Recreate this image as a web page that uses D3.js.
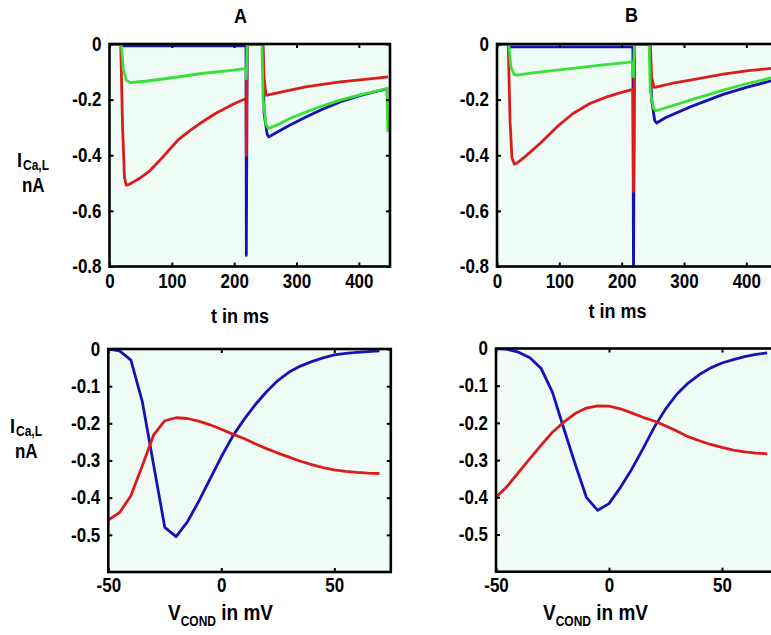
<!DOCTYPE html>
<html>
<head>
<meta charset="utf-8">
<script src="https://cdn.jsdelivr.net/npm/d3@7"></script>
<style>
  body { margin: 0; background: #fff; }
  text { font-family: "Liberation Sans", Arial, sans-serif; font-weight: bold; fill: #000; }
</style>
</head>
<body>
<div id="chartArea"></div>
<script>
// ---- data ----
var tTicks = [0, 100, 200, 300, 400];
var iTicksTop = [0, -0.2, -0.4, -0.6, -0.8];
var vTicks = [-50, 0, 50];
var iTicksBottom = [0, -0.1, -0.2, -0.3, -0.4, -0.5];

// top row: [t in ms, I in nA]
var topA_blue = [[0,0],[19,0],[20,-0.007],[219,-0.007],[219.5,-0.76],[221,0],[246,0],[248,-0.25],[253,-0.325],[256,-0.334],[265,-0.322],[289,-0.292],[316,-0.262],[340,-0.236],[370,-0.208],[400,-0.187],[425,-0.172],[447,-0.16]];
var topA_red = [[0,0],[18,0],[21,-0.3],[24,-0.48],[27,-0.508],[31,-0.505],[40,-0.494],[49,-0.482],[65,-0.455],[80,-0.42],[92,-0.39],[110,-0.345],[130,-0.31],[145,-0.286],[170,-0.25],[199,-0.216],[219,-0.196],[219.5,-0.4],[220.5,0],[246,0],[248,-0.12],[251,-0.184],[253,-0.184],[280,-0.17],[317,-0.153],[370,-0.136],[410,-0.127],[447,-0.118]];
var topA_green = [[0,0],[19,0],[22,-0.09],[27,-0.13],[33,-0.139],[60,-0.133],[92,-0.124],[145,-0.107],[199,-0.094],[219,-0.088],[219.5,-0.125],[221,0],[244.5,0],[246.5,-0.2],[251,-0.29],[255,-0.304],[270,-0.29],[289,-0.268],[316,-0.244],[340,-0.224],[370,-0.202],[400,-0.184],[425,-0.171],[445,-0.16],[446.5,-0.316]];

var topB_blue = [[0,0],[19,0],[20,-0.01],[218,-0.01],[219,-0.85],[220.5,0],[245,0],[248,-0.2],[253,-0.275],[256,-0.284],[270,-0.265],[310,-0.226],[363,-0.181],[400,-0.156],[447,-0.128]];
var topB_red = [[0,0],[18,0],[21,-0.28],[24,-0.41],[28,-0.432],[32,-0.428],[45,-0.405],[69,-0.358],[96,-0.298],[122,-0.25],[149,-0.214],[176,-0.19],[200,-0.174],[218,-0.163],[219,-0.53],[220.5,0],[246,0],[248,-0.12],[252,-0.156],[255,-0.155],[280,-0.142],[310,-0.13],[363,-0.108],[400,-0.097],[447,-0.086]];
var topB_green = [[0,0],[19,0],[22,-0.08],[27,-0.108],[32,-0.112],[60,-0.103],[122,-0.088],[170,-0.075],[218,-0.064],[219,-0.118],[220.5,0],[244,0],[246,-0.17],[251,-0.232],[255,-0.24],[280,-0.223],[310,-0.202],[363,-0.166],[400,-0.143],[447,-0.118]];

// bottom row: V_COND steps (mV) and peak currents (nA)
var vCond = [-50,-45,-40,-35,-30,-25,-20,-15,-10,-5,0,5,10,15,20,25,30,35,40,45,50,55,60,65,70];
var botA_blue = [0,-0.005,-0.03,-0.14,-0.31,-0.48,-0.505,-0.465,-0.41,-0.35,-0.29,-0.235,-0.19,-0.15,-0.115,-0.085,-0.062,-0.046,-0.034,-0.024,-0.016,-0.012,-0.009,-0.007,-0.005];
var botA_red = [-0.46,-0.44,-0.395,-0.315,-0.232,-0.193,-0.185,-0.187,-0.194,-0.204,-0.216,-0.229,-0.241,-0.255,-0.268,-0.28,-0.291,-0.302,-0.311,-0.319,-0.325,-0.329,-0.332,-0.334,-0.335];
var botB_blue = [0,-0.002,-0.01,-0.025,-0.054,-0.118,-0.215,-0.31,-0.4,-0.435,-0.417,-0.374,-0.325,-0.27,-0.212,-0.163,-0.123,-0.093,-0.07,-0.052,-0.039,-0.03,-0.022,-0.016,-0.012];
var botB_red = [-0.4,-0.37,-0.333,-0.296,-0.26,-0.225,-0.198,-0.175,-0.16,-0.154,-0.155,-0.162,-0.173,-0.185,-0.195,-0.208,-0.222,-0.237,-0.248,-0.258,-0.266,-0.273,-0.278,-0.281,-0.283];

var colors = { blue: "#1414b4", red: "#dc1c1c", green: "#38e038" };
var stretch = 1.15; // lettering in the figure is a bit taller than wide

var svg = d3.select("#chartArea").append("svg")
    .attr("width", 771)
    .attr("height", 635);

function zip(xs, ys) {
    return xs.map(function(v, i) { return [v, ys[i]]; });
}
function fmt(d) { return d === 0 ? "0" : String(d); }

var clipId = 0;
function panel(p) {
    var x = d3.scaleLinear().domain(p.xd).range([p.left, p.right]);
    var y = d3.scaleLinear().domain(p.yd).range([p.bottom, p.top]);

    svg.append("rect")
        .attr("x", p.left).attr("y", p.top)
        .attr("width", p.right - p.left).attr("height", p.bottom - p.top)
        .attr("fill", "#effbf5");

    var id = "clip" + (clipId++);
    svg.append("clipPath").attr("id", id)
        .append("rect")
        .attr("x", p.left).attr("y", p.top)
        .attr("width", p.right - p.left).attr("height", p.bottom - p.top);

    var line = d3.line()
        .x(function(d) { return x(d[0]); })
        .y(function(d) { return y(d[1]); });

    var g = svg.append("g").attr("clip-path", "url(#" + id + ")");
    p.series.forEach(function(s) {
        g.append("path")
            .attr("d", line(s.data))
            .attr("fill", "none")
            .attr("stroke", colors[s.c])
            .attr("stroke-width", 2.8)
            .attr("stroke-linejoin", "round");
    });

    // axes, ticks pointing inwards on all four sides
    var ax = svg.append("g").attr("transform", "translate(0," + p.bottom + ")")
        .call(d3.axisBottom(x).tickValues(p.xt).tickFormat(fmt).tickSizeInner(-4).tickSizeOuter(0));
    var ay = svg.append("g").attr("transform", "translate(" + p.left + ",0)")
        .call(d3.axisLeft(y).tickValues(p.yt).tickFormat(fmt).tickSizeInner(-4).tickSizeOuter(0));
    var at = svg.append("g").attr("transform", "translate(0," + p.top + ")")
        .call(d3.axisTop(x).tickValues(p.xt).tickFormat("").tickSizeInner(-4).tickSizeOuter(0));
    var ar = svg.append("g").attr("transform", "translate(" + p.right + ",0)")
        .call(d3.axisRight(y).tickValues(p.yt).tickFormat("").tickSizeInner(-4).tickSizeOuter(0));
    [ax, ay, at, ar].forEach(function(a) {
        a.select(".domain").remove();
        a.selectAll(".tick line").attr("stroke", "#000").attr("stroke-width", 2);
        a.selectAll(".tick text")
            .attr("fill", "#000")
            .style("font-size", "17px")
            .style("font-family", "'Liberation Sans', Arial, sans-serif")
            .style("font-weight", "bold");
    });
    // stretch the tick labels vertically around their anchor
    ax.selectAll(".tick text").attr("y", null)
        .attr("transform", "translate(0," + p.xpad + ") scale(1," + stretch + ")");
    ay.selectAll(".tick text").attr("x", null)
        .attr("transform", "translate(-8,0) scale(1," + stretch + ")");

    svg.append("rect")
        .attr("x", p.left).attr("y", p.top)
        .attr("width", p.right - p.left).attr("height", p.bottom - p.top)
        .attr("fill", "none")
        .attr("stroke", "#000")
        .attr("stroke-width", 2.6);
}

panel({ left: 109.5, right: 390, top: 44, bottom: 266.5, xd: [0, 450], yd: [-0.8, 0],
        xt: tTicks, yt: iTicksTop, xpad: 8,
        series: [{ data: topA_blue, c: "blue" }, { data: topA_red, c: "red" }, { data: topA_green, c: "green" }] });
panel({ left: 497, right: 777.5, top: 44, bottom: 266.5, xd: [0, 450], yd: [-0.8, 0],
        xt: tTicks, yt: iTicksTop, xpad: 8,
        series: [{ data: topB_blue, c: "blue" }, { data: topB_red, c: "red" }, { data: topB_green, c: "green" }] });
panel({ left: 108.3, right: 390.8, top: 349, bottom: 572, xd: [-50, 75], yd: [-0.6, 0],
        xt: vTicks, yt: iTicksBottom, xpad: 6,
        series: [{ data: zip(vCond, botA_blue), c: "blue" }, { data: zip(vCond, botA_red), c: "red" }] });
panel({ left: 496, right: 778.5, top: 348.5, bottom: 571.7, xd: [-50, 75], yd: [-0.6, 0],
        xt: vTicks, yt: iTicksBottom, xpad: 6,
        series: [{ data: zip(vCond, botB_blue), c: "blue" }, { data: zip(vCond, botB_red), c: "red" }] });

// titles and axis labels
function txt(x, y, size, anchor) {
    return svg.append("text")
        .attr("transform", "translate(" + x + "," + y + ") scale(1," + stretch + ")")
        .attr("text-anchor", anchor || "start")
        .style("font-size", size + "px");
}
txt(240.5, 22.5, 18, "middle").text("A");
txt(631.5, 22, 18, "middle").text("B");

txt(240, 323, 18, "middle").text("t in ms");
txt(617.5, 318, 18, "middle").text("t in ms");

function yLabel(x, y, gap) {
    var t = txt(x, y, 18);
    t.append("tspan").text("I");
    t.append("tspan").attr("dy", 3).attr("dx", 1).style("font-size", "12px").text("Ca,L");
    txt(x + 5, y + gap, 17).text("nA");
}
yLabel(17, 167, 25);
yLabel(10, 433, 25);

function vLabel(x, y) {
    var t = txt(x, y, 19);
    t.append("tspan").text("V");
    t.append("tspan").attr("dy", 5).style("font-size", "12px").text("COND");
    t.append("tspan").attr("dy", -5).text(" in mV");
}
vLabel(168, 620);
vLabel(543, 620);
</script>
</body>
</html>
